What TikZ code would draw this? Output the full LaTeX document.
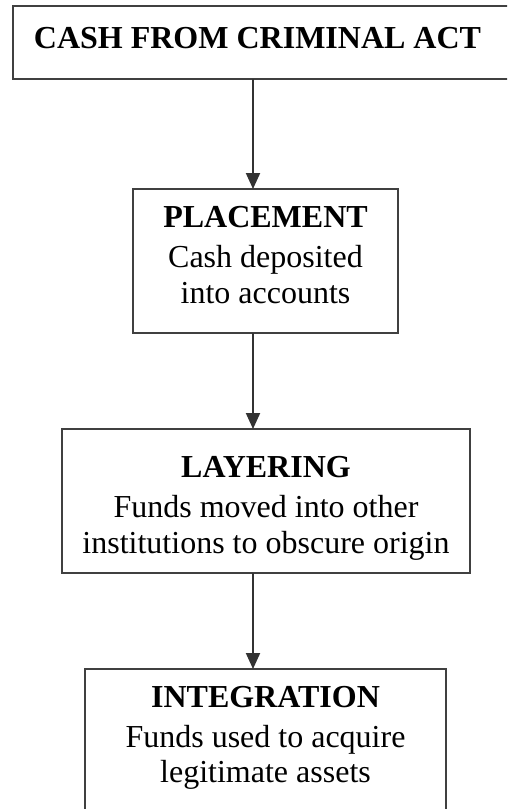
\documentclass[tikz,border=0pt]{standalone}
\usepackage{fontspec}
\setmainfont{Liberation Serif}
\usetikzlibrary{arrows.meta,calc}
\begin{document}
\begin{tikzpicture}[x=1pt,y=1pt,
  box/.style={draw=black!75, line width=2pt, inner sep=0pt, outer sep=0pt, fill=white},
  head/.style={font=\fontsize{32}{36}\selectfont\bfseries, anchor=base, inner sep=0pt},
  body/.style={font=\fontsize{32}{36}\selectfont, anchor=base, inner sep=0pt},
  arr/.style={draw=black!80, line width=2pt, -{Triangle[length=16pt,width=14pt]}}]
\useasboundingbox (0,0) rectangle (507,-809);
% boxes
\begin{scope}
\clip (0,0) rectangle (507,-809);
\node[box, minimum width=527pt, minimum height=73pt] (t) at (276.5,-42.5) {};
\node[box, minimum width=265pt, minimum height=144pt] (p) at (265.5,-261) {};
\node[box, minimum width=408pt, minimum height=144pt] (l) at (266,-501) {};
\node[box, minimum width=361pt, minimum height=160pt] (g) at (265.5,-749) {};
\end{scope}
% texts
\node[head] (t1) at (257.5,-48) {CASH FROM CRIMINAL ACT};
\node[head] (p1) at (265.5,-227) {PLACEMENT};
\node[body] (p2) at (265.5,-267) {Cash deposited};
\node[body] (p3) at (265.5,-303) {into accounts};
\node[head] (l1) at (266,-477) {LAYERING};
\node[body] (l2) at (266,-517) {Funds moved into other};
\node[body] (l3) at (266,-553) {institutions to obscure origin};
\node[head] (g1) at (265.5,-707) {INTEGRATION};
\node[body] (g2) at (265.5,-747) {Funds used to acquire};
\node[body] (g3) at (265.5,-782) {legitimate assets};
% arrows
\coordinate (ax) at (253,0);
\draw[arr] (t.south -| ax) -- (p.north -| ax);
\draw[arr] (p.south -| ax) -- (l.north -| ax);
\draw[arr] (l.south -| ax) -- (g.north -| ax);
\end{tikzpicture}
\end{document}
